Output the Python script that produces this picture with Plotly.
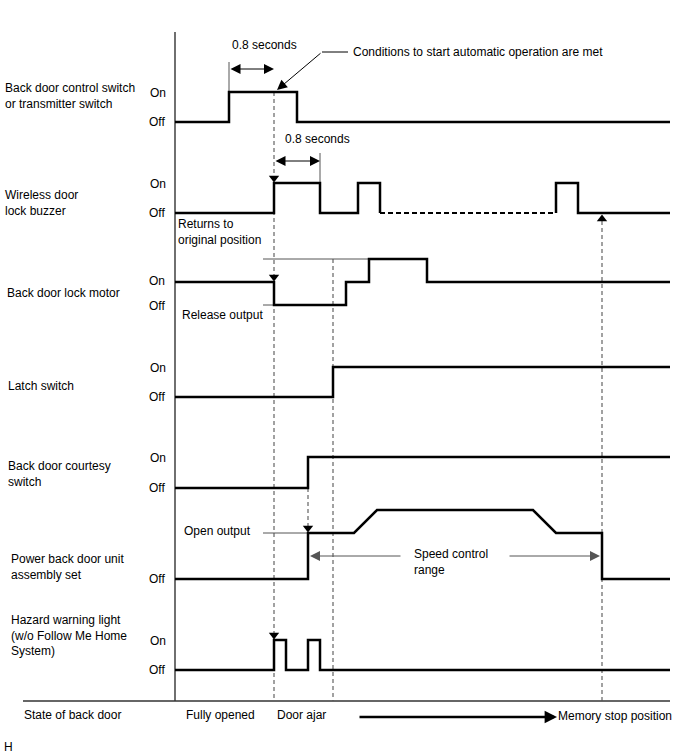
import plotly.graph_objects as go

# ---------------- data (time units, levels) ----------------
ctrl_t = [0, 54, 122, 495]
ctrl_v = [0, 1, 0, 0]

buzzer_a_t = [0, 99, 145, 183, 205]
buzzer_a_v = [0, 1, 0, 1, 0]
buzzer_dash_t = [205, 381]
buzzer_dash_v = [0, 0]
buzzer_b_t = [381, 381, 403, 495]
buzzer_b_v = [0, 1, 0, 0]

lock_t = [0, 99, 171, 194, 252, 495]
lock_v = [1, 0, 1, 2, 1, 1]

latch_t = [0, 158, 495]
latch_v = [0, 1, 1]

courtesy_t = [0, 133, 495]
courtesy_v = [0, 1, 1]

power_t = [0, 133, 133, 179, 202, 358, 381, 427, 427, 495]
power_v = [0, 0, 2, 2, 3, 3, 2, 2, 0, 0]

hazard_t = [0, 99, 111, 133, 145, 495]
hazard_v = [0, 1, 0, 1, 0, 0]

# event times
T_PRESS, T_START, T_BUZ_END, T_COURTESY, T_LATCH, T_STOP, T_END = 54, 99, 145, 133, 158, 427, 495

row_labels = [
    "Back door control switch<br>or transmitter switch",
    "Wireless door<br>lock buzzer",
    "Back door lock motor",
    "Latch switch",
    "Back door courtesy<br>switch",
    "Power back door unit<br>assembly set",
    "Hazard warning light<br>(w/o Follow Me Home<br>System)",
]
state_labels = ["Fully opened", "Door ajar", "Memory stop position"]

# ---------------- layout constants (pixels) ----------------
W, H = 688, 755
X0 = 175
BASE = {"ctrl": 122, "buzzer": 213, "lock": 305, "latch": 397,
        "courtesy": 488, "power": 579, "hazard": 670}
AMP = {"ctrl": 30, "buzzer": 30, "lock": 23, "latch": 30,
       "courtesy": 31, "power": 23, "hazard": 30}
AXIS_Y = 701
AXIS_TOP = 32

FONT = dict(family="Liberation Sans, Arial, sans-serif", size=12, color="#000")
SIG = dict(color="#000", width=2.5)
THIN = dict(color="#555", width=1)
DASH = dict(color="#555", width=1.1, dash="4px,3px")


def Y(sig, v):
    return [BASE[sig] - a * AMP[sig] for a in v]


def px(x):
    return x - X0


fig = go.Figure()


def line(x, y, style, shape="linear"):
    fig.add_trace(go.Scatter(x=x, y=y, mode="lines", line=dict(**style, shape=shape),
                             hoverinfo="skip", showlegend=False))


# axes frame
line([0, 0], [AXIS_TOP, AXIS_Y], dict(color="#333", width=1.4))
line([px(23), T_END], [AXIS_Y, AXIS_Y], dict(color="#333", width=1.4))

# thin reference lines
line([T_PRESS, T_PRESS], [62, BASE["ctrl"] - AMP["ctrl"]], THIN)
line([T_BUZ_END, T_BUZ_END], [153, BASE["buzzer"] - AMP["buzzer"]], THIN)
line([px(263), lock_t[3]], Y("lock", [2, 2]), THIN)
line([px(263), T_START], Y("lock", [0, 0]), THIN)
line([px(263), T_COURTESY], Y("power", [2, 2]), THIN)

# dashed verticals
line([T_START, T_START], [BASE["ctrl"] - AMP["ctrl"], AXIS_Y], DASH)
line([T_LATCH, T_LATCH], [Y("lock", [2])[0], AXIS_Y], DASH)
line([T_COURTESY, T_COURTESY], [BASE["courtesy"], Y("power", [2])[0] - 6], DASH)
line([T_STOP, T_STOP], [BASE["buzzer"] + 8, AXIS_Y], DASH)

# signals
line(ctrl_t, Y("ctrl", ctrl_v), SIG, "hv")
line(buzzer_a_t, Y("buzzer", buzzer_a_v), SIG, "hv")
line(buzzer_dash_t, Y("buzzer", buzzer_dash_v), dict(color="#000", width=2.2, dash="5px,3px"))
line(buzzer_b_t, Y("buzzer", buzzer_b_v), SIG, "hv")
line(lock_t, Y("lock", lock_v), SIG, "hv")
line(latch_t, Y("latch", latch_v), SIG, "hv")
line(courtesy_t, Y("courtesy", courtesy_v), SIG, "hv")
line(power_t, Y("power", power_v), SIG)
line(hazard_t, Y("hazard", hazard_v), SIG, "hv")

# arrow heads on dashed lines
tips_down = [(T_START, BASE["buzzer"] - AMP["buzzer"]), (T_START, BASE["lock"] - AMP["lock"]),
             (T_START, BASE["hazard"] - AMP["hazard"]), (T_COURTESY, Y("power", [2])[0])]
fig.add_trace(go.Scatter(x=[t for t, _ in tips_down], y=[y - 5 for _, y in tips_down],
                         mode="markers", marker=dict(symbol="triangle-down", size=9, color="#000"),
                         hoverinfo="skip", showlegend=False))
fig.add_trace(go.Scatter(x=[T_STOP], y=[BASE["buzzer"] + 6], mode="markers",
                         marker=dict(symbol="triangle-up", size=9, color="#000"),
                         hoverinfo="skip", showlegend=False))

ann = []


def text(x, y, s, anchor="left"):
    ann.append(dict(x=x, y=y, text=s, showarrow=False, xanchor=anchor, yanchor="middle",
                    font=FONT, xref="x", yref="y", align="left", borderpad=0))


def arrow(x, y, ax, ay, width=1, size=2.0, side="end", color="#000"):
    ann.append(dict(x=x, y=y, ax=ax, ay=ay, axref="x", ayref="y", xref="x", yref="y",
                    text="", showarrow=True, arrowhead=2, arrowsize=size, arrowwidth=width,
                    arrowcolor=color, arrowside=side, standoff=0, startstandoff=0))


# row labels
label_pos = [(4, 96), (4, 203), (6, 293), (7, 386), (7, 474), (10, 567), (10, 635)]
for (lx, ly), s in zip(label_pos, row_labels):
    text(px(lx), ly, s)

# On / Off labels
for sig, has_on in [("ctrl", True), ("buzzer", True), ("latch", True),
                    ("courtesy", True), ("power", False), ("hazard", True)]:
    if has_on:
        text(px(149), BASE[sig] - AMP[sig] + 1, "On")
    text(px(148), BASE[sig], "Off")
text(px(148), 281, "On")
text(px(148), 306, "Off")

# annotations
text(px(231), 45, "0.8 seconds")
arrow(T_START, 69, T_PRESS, 69, side="end+start")
text(px(284), 139, "0.8 seconds")
arrow(T_BUZ_END, 161, T_START, 161, side="end+start")

line([px(322), px(348)], [52, 52], dict(color="#000", width=1))
arrow(px(277), 90, px(322), 52)
text(px(352), 52, "Conditions to start automatic operation are met")

text(px(177), 232, "Returns to<br>original position")
text(px(181), 315, "Release output")
text(px(183), 531, "Open output")

text(px(413), 562, "Speed control<br>range")
arrow(px(310), 556, px(402), 556, color="#555")
arrow(px(600), 556, px(508), 556, color="#555")

text(px(23), 715, "State of back door")
text(px(185), 715, state_labels[0])
text(px(276), 715, state_labels[1])
arrow(px(557), 717, px(358), 717, width=2.6, size=0.95)
text(px(557), 716, state_labels[2])
text(px(3), 747, "H")

fig.update_layout(
    width=W, height=H, margin=dict(l=0, r=0, t=0, b=0),
    paper_bgcolor="white", plot_bgcolor="white",
    xaxis=dict(range=[-X0, W - X0], visible=False, fixedrange=True),
    yaxis=dict(range=[H, 0], visible=False, fixedrange=True),
    annotations=ann, showlegend=False,
)

fig.write_html("out.html", config={"displayModeBar": False},
               post_script="document.body.style.margin='0';document.body.style.overflow='hidden';")
